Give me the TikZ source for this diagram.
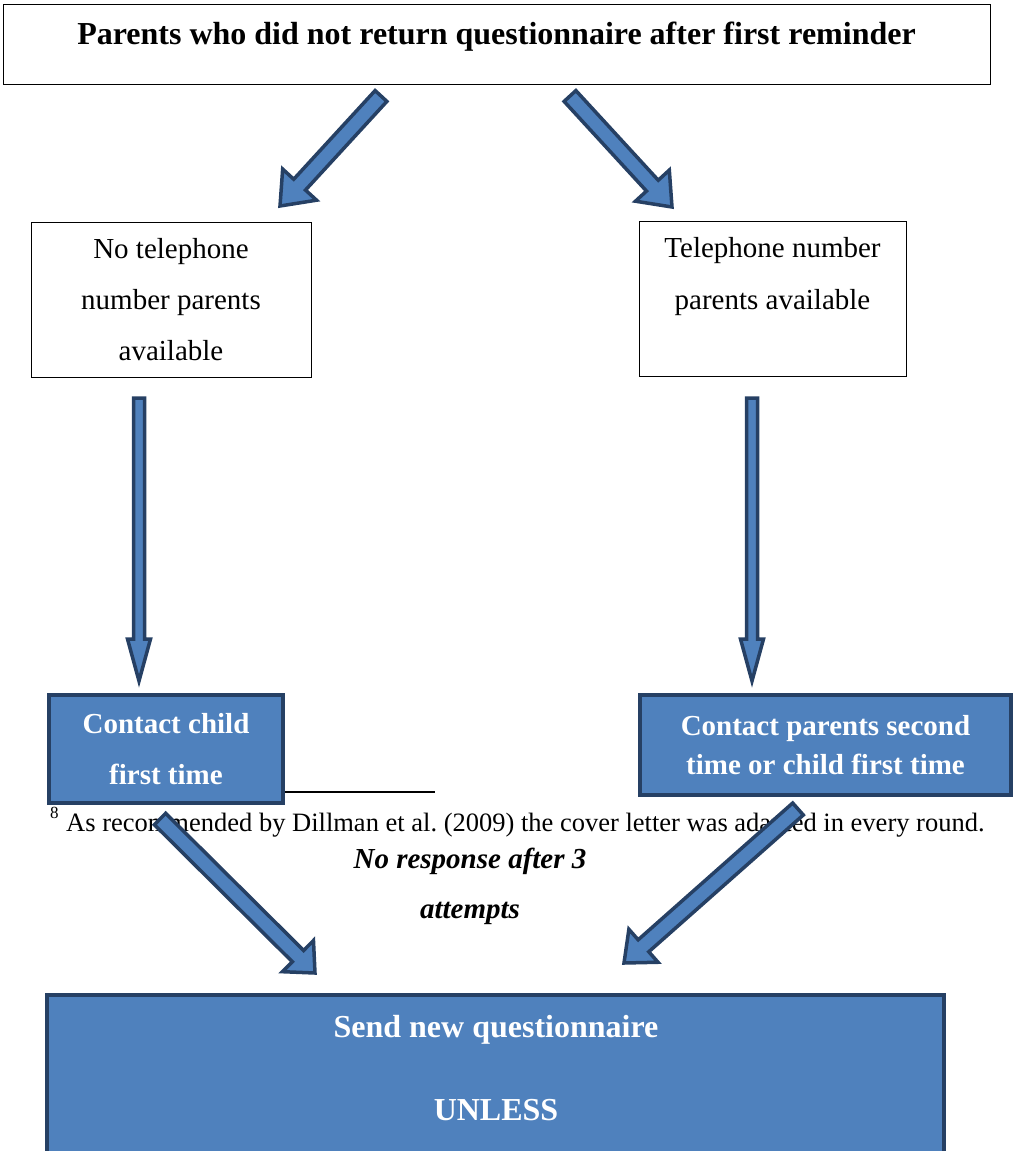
\documentclass[tikz,border=0pt]{standalone}
\usepackage{fontspec}
\setmainfont{Liberation Serif}
\usetikzlibrary{calc}
\definecolor{accfill}{RGB}{79,129,189}
\definecolor{accline}{RGB}{38,64,100}
\newcommand{\fsz}[2]{\fontsize{#1}{#2}\selectfont}
% name, tail, tip, shaft half width, head half width, head length
\newcommand{\blockarr}[6]{%
  \coordinate (#1-t) at (#2);
  \coordinate (#1-p) at (#3);
  \coordinate (#1-b) at ($(#1-p)!#6!(#1-t)$);
  \draw[barrow] ($(#1-t)!#4!90:(#1-p)$) -- ($(#1-b)!#4!90:(#1-p)$) -- ($(#1-b)!#5!90:(#1-p)$)
    -- (#1-p) -- ($(#1-b)!#5!-90:(#1-p)$) -- ($(#1-b)!#4!-90:(#1-p)$) -- ($(#1-t)!#4!-90:(#1-p)$) -- cycle;
}
\frenchspacing
\begin{document}
\begin{tikzpicture}[x=1pt,y=-1pt,
  plainbox/.style={draw=black, line width=1pt, fill=white, inner sep=0pt},
  bluebox/.style={draw=accline, line width=4pt, fill=accfill, text=white, align=center, inner sep=0pt},
  barrow/.style={draw=accline, fill=accfill, line width=3.5pt, line join=miter},
  plaintext/.style={inner sep=0pt, align=center}]
\useasboundingbox (0,0) rectangle (1014,1151);
\clip (0,0) rectangle (1014,1151);

% footnote rule
\coordinate (rulel) at (47,792);
\coordinate (ruler) at (435,792);
\draw[line width=1.5pt] (rulel) -- (ruler);

% top box
\node[plainbox, minimum width=987pt, minimum height=80pt] (topbox) at (496.5,44) {};
\node[plaintext, font=\fsz{32}{38}\bfseries] (title) at (496.5,37) {Parents who did not return questionnaire after first reminder};

% middle boxes
\node[plainbox, minimum width=280pt, minimum height=155pt, align=center, font=\fsz{29}{51}] (nophone) at (171,299.5) {No telephone\\number parents\\available};
\node[plainbox, minimum width=267pt, minimum height=155pt] (phone) at (772.5,298.5) {};
\node[plaintext, font=\fsz{29}{52}] (phonetxt) at (772.5,277) {Telephone number\\parents available};

% contact boxes
\node[bluebox, minimum width=234pt, minimum height=108pt, font=\fsz{29}{51}\bfseries] (cchild) at (166,749) {Contact child\\first time};
\node[bluebox, minimum width=371pt, minimum height=100pt, font=\fsz{29}{39}\bfseries] (cparents) at (825.5,745) {Contact parents second\\time or child first time};

% footnote
\node[inner sep=0pt, anchor=base west, font=\fsz{17}{20}] (fnmark) at (50,818) {8};
\node[inner sep=0pt, anchor=base west, font=\fsz{26.5}{30}] (fntext) at (66,831) {As recommended by Dillman et al. (2009) the cover letter was adapted in every round.};

% no response label
\node[plaintext, font=\fsz{29}{50}\bfseries\itshape] (noresp) at (470,886) {No response after 3\\attempts};

% bottom box
\node[bluebox, minimum width=897pt, minimum height=255pt, anchor=north] (sendbox) at (495.5,993) {};
\node[plaintext, text=white, font=\fsz{32}{38}\bfseries] (send) at (496,1030) {Send new questionnaire};
\node[plaintext, text=white, font=\fsz{32}{38}\bfseries] (unless) at (496,1110) {UNLESS};

% block arrows
\blockarr{a1}{381,96}{280,206}{8pt}{23pt}{29pt}
\blockarr{a2}{570,96}{672,207}{8pt}{23pt}{29pt}
\blockarr{a3}{139,398}{139,681}{5.5pt}{11.5pt}{42pt}
\blockarr{a4}{752,398}{752,681}{5.5pt}{11.5pt}{42pt}
\blockarr{a5}{160,819}{315,973}{8pt}{22pt}{24pt}
\blockarr{a6}{798,809}{624,963}{8pt}{22pt}{26pt}
\end{tikzpicture}
\end{document}
